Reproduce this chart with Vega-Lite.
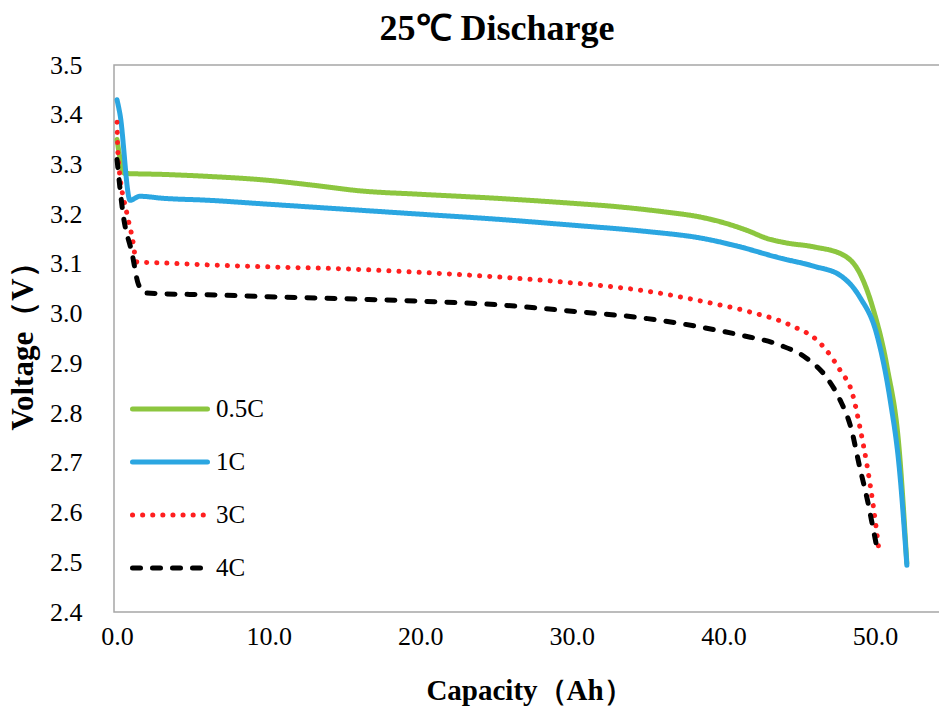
{
  "$schema": "https://vega.github.io/schema/vega-lite/v6.json",
  "autosize": "none",
  "padding": {"left": 114, "top": 65, "right": 0, "bottom": 101},
  "width": 830,
  "height": 547,
  "background": "white",
  "title": {"text": "25℃ Discharge", "font": "Liberation Serif", "fontSize": 36, "fontWeight": "bold", "color": "#000", "anchor": "middle", "dx": -32, "offset": 4},
  "config": {
    "view": {"stroke": "#a6a6a6", "strokeWidth": 1.5},
    "font": "Liberation Serif"
  },
  "data": {"values": [
    {"rate": "0.5C", "cap": 0, "v": 3.35},
    {"rate": "0.5C", "cap": 0.5, "v": 3.282},
    {"rate": "0.5C", "cap": 3, "v": 3.28},
    {"rate": "0.5C", "cap": 6, "v": 3.276},
    {"rate": "0.5C", "cap": 10, "v": 3.268},
    {"rate": "0.5C", "cap": 13, "v": 3.258},
    {"rate": "0.5C", "cap": 16, "v": 3.247},
    {"rate": "0.5C", "cap": 20, "v": 3.24},
    {"rate": "0.5C", "cap": 25, "v": 3.232},
    {"rate": "0.5C", "cap": 30, "v": 3.222},
    {"rate": "0.5C", "cap": 33, "v": 3.215},
    {"rate": "0.5C", "cap": 36, "v": 3.205},
    {"rate": "0.5C", "cap": 38.5, "v": 3.194},
    {"rate": "0.5C", "cap": 40, "v": 3.183},
    {"rate": "0.5C", "cap": 41.5, "v": 3.168},
    {"rate": "0.5C", "cap": 43, "v": 3.15},
    {"rate": "0.5C", "cap": 44, "v": 3.143},
    {"rate": "0.5C", "cap": 46, "v": 3.134},
    {"rate": "0.5C", "cap": 47.9, "v": 3.118},
    {"rate": "0.5C", "cap": 49, "v": 3.081},
    {"rate": "0.5C", "cap": 49.9, "v": 3.007},
    {"rate": "0.5C", "cap": 50.8, "v": 2.892},
    {"rate": "0.5C", "cap": 51.6, "v": 2.725},
    {"rate": "0.5C", "cap": 52.1, "v": 2.498},
    {"rate": "1C", "cap": 0, "v": 3.43},
    {"rate": "1C", "cap": 0.2, "v": 3.4},
    {"rate": "1C", "cap": 0.86, "v": 3.228},
    {"rate": "1C", "cap": 1.5, "v": 3.236},
    {"rate": "1C", "cap": 3, "v": 3.232},
    {"rate": "1C", "cap": 6, "v": 3.228},
    {"rate": "1C", "cap": 10, "v": 3.22},
    {"rate": "1C", "cap": 15, "v": 3.21},
    {"rate": "1C", "cap": 20, "v": 3.2},
    {"rate": "1C", "cap": 25, "v": 3.19},
    {"rate": "1C", "cap": 30, "v": 3.178},
    {"rate": "1C", "cap": 35, "v": 3.165},
    {"rate": "1C", "cap": 38.5, "v": 3.152},
    {"rate": "1C", "cap": 41, "v": 3.135},
    {"rate": "1C", "cap": 43.7, "v": 3.112},
    {"rate": "1C", "cap": 46, "v": 3.095},
    {"rate": "1C", "cap": 47.7, "v": 3.077},
    {"rate": "1C", "cap": 49, "v": 3.033},
    {"rate": "1C", "cap": 50.1, "v": 2.96},
    {"rate": "1C", "cap": 51, "v": 2.826},
    {"rate": "1C", "cap": 51.6, "v": 2.69},
    {"rate": "1C", "cap": 52.1, "v": 2.494},
    {"rate": "3C", "cap": 0, "v": 3.385},
    {"rate": "3C", "cap": 0.07, "v": 3.315},
    {"rate": "3C", "cap": 0.66, "v": 3.2},
    {"rate": "3C", "cap": 1.0, "v": 3.154},
    {"rate": "3C", "cap": 1.3, "v": 3.104},
    {"rate": "3C", "cap": 3, "v": 3.102},
    {"rate": "3C", "cap": 6, "v": 3.098},
    {"rate": "3C", "cap": 10, "v": 3.094},
    {"rate": "3C", "cap": 15, "v": 3.09},
    {"rate": "3C", "cap": 20, "v": 3.083},
    {"rate": "3C", "cap": 25, "v": 3.074},
    {"rate": "3C", "cap": 30, "v": 3.062},
    {"rate": "3C", "cap": 35, "v": 3.045},
    {"rate": "3C", "cap": 38.9, "v": 3.023},
    {"rate": "3C", "cap": 41.8, "v": 3.003},
    {"rate": "3C", "cap": 44.4, "v": 2.977},
    {"rate": "3C", "cap": 46.4, "v": 2.94},
    {"rate": "3C", "cap": 47.7, "v": 2.886},
    {"rate": "3C", "cap": 48.5, "v": 2.84},
    {"rate": "3C", "cap": 49, "v": 2.772},
    {"rate": "3C", "cap": 49.5, "v": 2.69},
    {"rate": "3C", "cap": 49.9, "v": 2.61},
    {"rate": "3C", "cap": 50.3, "v": 2.514},
    {"rate": "4C", "cap": 0, "v": 3.31},
    {"rate": "4C", "cap": 0.4, "v": 3.2},
    {"rate": "4C", "cap": 1.0, "v": 3.12},
    {"rate": "4C", "cap": 1.4, "v": 3.06},
    {"rate": "4C", "cap": 1.85, "v": 3.042},
    {"rate": "4C", "cap": 3, "v": 3.04},
    {"rate": "4C", "cap": 6, "v": 3.038},
    {"rate": "4C", "cap": 10, "v": 3.034},
    {"rate": "4C", "cap": 15, "v": 3.03},
    {"rate": "4C", "cap": 20, "v": 3.025},
    {"rate": "4C", "cap": 25, "v": 3.018},
    {"rate": "4C", "cap": 30, "v": 3.005},
    {"rate": "4C", "cap": 35, "v": 2.99},
    {"rate": "4C", "cap": 38.5, "v": 2.973},
    {"rate": "4C", "cap": 41.1, "v": 2.957},
    {"rate": "4C", "cap": 43.7, "v": 2.937},
    {"rate": "4C", "cap": 45.5, "v": 2.91},
    {"rate": "4C", "cap": 46.8, "v": 2.872},
    {"rate": "4C", "cap": 47.7, "v": 2.826},
    {"rate": "4C", "cap": 48.4, "v": 2.772},
    {"rate": "4C", "cap": 49, "v": 2.69},
    {"rate": "4C", "cap": 49.5, "v": 2.625},
    {"rate": "4C", "cap": 49.9, "v": 2.564},
    {"rate": "4C", "cap": 50.2, "v": 2.518}
  ]},
  "mark": {"type": "line", "strokeWidth": 5, "strokeCap": "round", "strokeJoin": "round", "interpolate": "monotone", "clip": true},
  "encoding": {
    "x": {"field": "cap", "type": "quantitative",
      "scale": {"domain": [-0.2, 54.55], "nice": false, "zero": false},
      "axis": {"values": [0, 10, 20, 30, 40, 50], "format": ".1f", "grid": false, "ticks": false, "domain": false,
        "labelFont": "Liberation Serif", "labelFontSize": 26, "labelColor": "#000", "labelPadding": 11,
        "title": "Capacity（Ah）", "titleFont": "Liberation Serif", "titleFontSize": 29, "titleFontWeight": "bold", "titleColor": "#000", "titlePadding": 27}},
    "y": {"field": "v", "type": "quantitative",
      "scale": {"domain": [2.4, 3.5], "nice": false, "zero": false},
      "axis": {"values": [2.4, 2.5, 2.6, 2.7, 2.8, 2.9, 3.0, 3.1, 3.2, 3.3, 3.4, 3.5], "format": ".1f", "grid": false, "ticks": false, "domain": false,
        "labelFont": "Liberation Serif", "labelFontSize": 26, "labelColor": "#000", "labelPadding": 32,
        "title": "Voltage（V）", "titleFont": "Liberation Serif", "titleFontSize": 31, "titleFontWeight": "bold", "titleColor": "#000", "titlePadding": 10}},
    "color": {"field": "rate", "type": "nominal",
      "scale": {"domain": ["0.5C", "1C", "3C", "4C"], "range": ["#8cc63f", "#2ba6e1", "#ff1f1f", "#000000"]},
      "legend": {"orient": "none", "legendX": 16, "legendY": 304, "title": null, "symbolType": "stroke", "symbolSize": 5625, "symbolStrokeWidth": 5,
        "labelFont": "Liberation Serif", "labelFontSize": 25, "labelColor": "#000", "labelOffset": 6, "rowPadding": 0,
        "encode": {"symbols": {"update": {"strokeCap": {"value": "round"}}}}}},
    "strokeDash": {"field": "rate", "type": "nominal",
      "scale": {"domain": ["0.5C", "1C", "3C", "4C"], "range": [[1, 0], [1, 0], [0.1, 10], [8, 12]]}}
  }
}
